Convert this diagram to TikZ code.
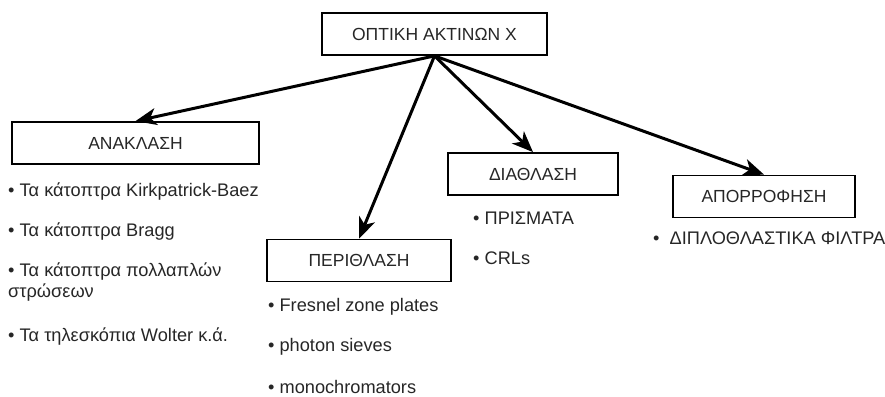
\documentclass[tikz,border=0pt]{standalone}
\usepackage{fontspec}
\setmainfont{Liberation Sans}
\usetikzlibrary{arrows.meta}
\begin{document}
\begin{tikzpicture}[x=1pt,y=-1pt,
  catbox/.style={draw=black,line width=1.8pt,minimum height=42pt,inner sep=0pt,
     font=\fontsize{17.5}{20}\selectfont,text=black!85},
  item/.style={anchor=west,inner sep=0pt,align=left,
     font=\fontsize{18.2}{21}\selectfont,text=black!85},
  link/.style={line width=3pt,-{Stealth[length=21pt,width=17pt,inset=6pt]}}]
\useasboundingbox (0,0) rectangle (885,396);
\node[catbox,minimum width=225pt] (top) at (434.5,34) {ΟΠΤΙΚΗ ΑΚΤΙΝΩΝ Χ};
\node[catbox,minimum width=247pt] (ana) at (135.5,143) {ΑΝΑΚΛΑΣΗ};
\node[catbox,minimum width=184pt] (peri) at (359,260.5) {ΠΕΡΙΘΛΑΣΗ};
\node[catbox,minimum width=170pt] (dia) at (533,174) {ΔΙΑΘΛΑΣΗ};
\node[catbox,minimum width=182pt] (apo) at (764,196.5) {ΑΠΟΡΡΟΦΗΣΗ};
\draw[link] (top.south) -- (ana.north);
\draw[link] (top.south) -- (peri.north);
\draw[link] (top.south) -- (dia.north);
\draw[link] (top.south) -- (apo.north);
% lists
\node[item] (a1) at (8,192) {• Τα κάτοπτρα Kirkpatrick-Baez};
\node[item] (a2) at (8,232) {• Τα κάτοπτρα Bragg};
\node[item] (a3) at (8,282.5) {• Τα κάτοπτρα πολλαπλών\\στρώσεων};
\node[item] (a4) at (8,337) {• Τα τηλεσκόπια Wolter κ.ά.};
\node[item] (p1) at (268,307) {• Fresnel zone plates};
\node[item] (p2) at (268,347) {• photon sieves};
\node[item] (p3) at (268,387) {• monochromators};
\node[item] (d1) at (473,218) {• ΠΡΙΣΜΑΤΑ};
\node[item] (d2) at (473,258) {• CRLs};
\node[item] (o1) at (653,238) {•\ \ ΔΙΠΛΟΘΛΑΣΤΙΚΑ ΦΙΛΤΡΑ};
\end{tikzpicture}
\end{document}
